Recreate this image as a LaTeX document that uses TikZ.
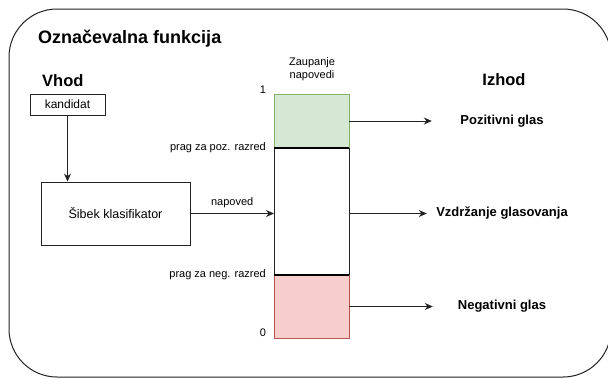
\documentclass[tikz,border=0pt]{standalone}
\usepackage{fontspec}
\setmainfont{Liberation Sans}
\usetikzlibrary{arrows.meta}
\definecolor{gfill}{HTML}{D5E8D4}
\definecolor{gline}{HTML}{82B366}
\definecolor{rfill}{HTML}{F8CECC}
\definecolor{rline}{HTML}{B85450}
\definecolor{dk}{HTML}{222222}
\tikzset{
  box/.style={draw=dk, line width=0.9pt, rectangle, inner sep=0pt, align=center},
  conn/.style={draw=dk, line width=0.9pt, -{Stealth[length=8pt,width=7pt]}},
  lbl/.style={inner sep=0pt, font=\fontsize{11}{13}\selectfont},
  outlbl/.style={inner sep=0pt, font=\fontsize{13}{15}\selectfont\bfseries},
  head/.style={inner sep=0pt, font=\fontsize{16.5}{18}\selectfont\bfseries},
  thick line/.style={draw=black, line width=2pt}
}
\begin{document}
\begin{tikzpicture}[x=1pt,y=-1pt]
\useasboundingbox (0,0) rectangle (608,378);
\begin{scope}
\clip (0,0) rectangle (608,378);
\draw[draw=dk, line width=1pt, rounded corners=48pt] (9,9) rectangle (611,377);
\end{scope}

% headings
\node[inner sep=0pt, anchor=base west, font=\fontsize{18}{20}\selectfont\bfseries] (title) at (38,43) {Označevalna funkcija};
\node[head, anchor=base west] (vhod) at (42,86) {Vhod};
\node[head, anchor=base] (izhod) at (504,85) {Izhod};

% input side
\node[box, minimum width=75pt, minimum height=21pt, font=\fontsize{12}{14}\selectfont] (kand) at (67.5,104.5) {kandidat};
\node[box, minimum width=149pt, minimum height=63pt, font=\fontsize{12.5}{14}\selectfont] (sib) at (115.5,213.5) {Šibek klasifikator};
\draw[conn] (kand.south) -- (kand.south |- sib.north);

% confidence bar
\node[rectangle, draw=gline, fill=gfill, line width=0.9pt, minimum width=75pt, minimum height=54pt, inner sep=0pt] (green) at (311.5,121) {};
\node[rectangle, draw=dk, fill=white, line width=0.9pt, minimum width=75pt, minimum height=127pt, inner sep=0pt] (mid) at (311.5,211.5) {};
\node[rectangle, draw=rline, fill=rfill, line width=0.9pt, minimum width=75pt, minimum height=63pt, inner sep=0pt] (red) at (311.5,306.5) {};
\draw[thick line] (green.south west) -- (green.south east);
\draw[thick line] (red.north west) -- (red.north east);

\node[lbl, align=center] (zaup) at (312,69) {Zaupanje\\napovedi};
\node[lbl] (one) at (263,90) {1};
\node[lbl] (zero) at (263,333) {0};
\node[lbl, anchor=east] (ppoz) at (266,148) {prag za poz. razred};
\node[lbl, anchor=east] (pneg) at (266,275) {prag za neg. razred};

% prediction arrow
\coordinate (barin) at (274,213.5);
\draw[conn] (sib.east) -- node[lbl, above=5pt] (nap) {napoved} (barin);

% outputs
\node[outlbl, minimum width=140pt] (pos) at (502,121) {Pozitivni glas};
\node[outlbl, minimum width=150pt] (abst) at (502,213.5) {Vzdržanje glasovanja};
\node[outlbl, minimum width=138pt] (neg) at (502,306.5) {Negativni glas};
\draw[conn] (green.east) -- (pos.west);
\draw[conn] (mid.east |- abst.west) -- (abst.west);
\draw[conn] (red.east) -- (neg.west);
\end{tikzpicture}
\end{document}
